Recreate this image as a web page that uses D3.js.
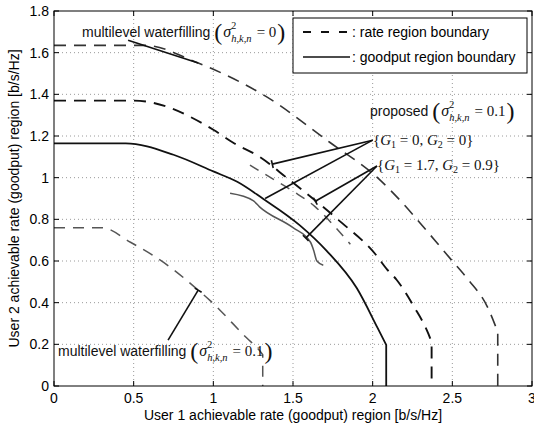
<!DOCTYPE html>
<html>
<head>
<meta charset="utf-8">
<script src="https://cdn.jsdelivr.net/npm/d3@7"></script>
<style>
  body { margin: 0; background: #fff; }
  svg { display: block; }
</style>
</head>
<body>
<div id="chart"></div>
<script>
// axis ticks
const xTicks = [0, 0.5, 1, 1.5, 2, 2.5, 3];
const yTicks = [0, 0.2, 0.4, 0.6, 0.8, 1, 1.2, 1.4, 1.6, 1.8];

// multilevel waterfilling, sigma^2 = 0 (rate region, dashed)
const wf0X = [0, 0.57, 0.905, 1.0, 1.33, 1.73, 2.0, 2.5, 2.6, 2.72, 2.785, 2.785];
const wf0Y = [1.635, 1.635, 1.55, 1.52, 1.39, 1.17, 1.02, 0.6, 0.51, 0.38, 0.26, 0];

// proposed {G1=0,G2=0}, rate region (dashed)
const rate00X = [0, 0.5, 1.0, 1.12, 1.29, 1.46, 1.78, 2.02, 2.09, 2.15, 2.26, 2.35, 2.37, 2.37];
const rate00Y = [1.37, 1.37, 1.23, 1.17, 1.10, 1.0, 0.80, 0.63, 0.56, 0.51, 0.38, 0.25, 0.21, 0];

// proposed {G1=0,G2=0}, goodput region (solid)
const good00X = [0, 0.45, 0.75, 1.0, 1.15, 1.31, 1.545, 1.71, 1.9, 2.03, 2.085, 2.085];
const good00Y = [1.165, 1.165, 1.11, 1.03, 0.98, 0.90, 0.77, 0.65, 0.47, 0.28, 0.197, 0];

// proposed {G1=1.7,G2=0.9}, rate region (short dashed)
const rate17X = [1.23, 1.36, 1.5, 1.64, 1.78, 1.86];
const rate17Y = [1.06, 1.0, 0.935, 0.86, 0.75, 0.68];

// proposed {G1=1.7,G2=0.9}, goodput region (short solid)
const good17X = [1.105, 1.25, 1.29, 1.5, 1.61, 1.63, 1.65, 1.69];
const good17Y = [0.925, 0.89, 0.86, 0.76, 0.69, 0.65, 0.60, 0.58];

// multilevel waterfilling, sigma^2 = 0.1 (rate region, dashed)
const wf1X = [0, 0.3, 0.48, 0.73, 0.905, 0.98, 1.21, 1.29, 1.31, 1.31];
const wf1Y = [0.76, 0.76, 0.69, 0.57, 0.46, 0.41, 0.23, 0.17, 0.15, 0];

const width = 534, height = 430;
const plot = { left: 54, right: 532, top: 11, bottom: 386 };
const sans = "'Liberation Sans', Arial, Helvetica, sans-serif";
const serif = "'Liberation Serif', 'Times New Roman', serif";

const svg = d3.select("#chart").append("svg")
  .attr("width", width)
  .attr("height", height);

const x = d3.scaleLinear().domain([0, 3]).range([plot.left, plot.right]);
const y = d3.scaleLinear().domain([0, 1.8]).range([plot.bottom, plot.top]);

// dotted grid
const grid = svg.append("g")
  .attr("stroke", "#9a9a9a")
  .attr("stroke-width", 1)
  .attr("stroke-dasharray", "1,3");
grid.selectAll("line.gx")
  .data(xTicks.slice(1, -1))
  .enter().append("line")
  .attr("x1", d => x(d)).attr("x2", d => x(d))
  .attr("y1", plot.top).attr("y2", plot.bottom);
grid.selectAll("line.gy")
  .data(yTicks.slice(1, -1))
  .enter().append("line")
  .attr("y1", d => y(d)).attr("y2", d => y(d))
  .attr("x1", plot.left).attr("x2", plot.right);

// curves: smooth monotone body, then the vertical drop to the x axis as straight line
const smooth = d3.line()
  .x(d => x(d[0]))
  .y(d => y(d[1]))
  .curve(d3.curveMonotoneX);
const zip = (xs, ys) => xs.map((v, i) => [v, ys[i]]);

function curvePath(xs, ys) {
  const pts = zip(xs, ys);
  let k = pts.length - 1;
  while (k > 0 && pts[k - 1][0] === pts[k][0]) k--;
  let d = smooth(pts.slice(0, k + 1));
  pts.slice(k + 1).forEach(p => { d += `L${x(p[0])},${y(p[1])}`; });
  return d;
}

const curves = [
  { xs: wf1X, ys: wf1Y, color: "#555", w: 1.5, dash: "11,8" },
  { xs: wf0X, ys: wf0Y, color: "#333", w: 1.6, dash: "12,8" },
  { xs: rate00X, ys: rate00Y, color: "#111", w: 1.9, dash: "12,8" },
  { xs: rate17X, ys: rate17Y, color: "#555", w: 1.5, dash: "10,8" },
  { xs: good00X, ys: good00Y, color: "#111", w: 1.8, dash: null },
  { xs: good17X, ys: good17Y, color: "#555", w: 1.5, dash: null },
];

svg.append("g")
  .selectAll("path")
  .data(curves)
  .enter().append("path")
  .attr("d", d => curvePath(d.xs, d.ys))
  .attr("fill", "none")
  .attr("stroke", d => d.color)
  .attr("stroke-width", d => d.w)
  .attr("stroke-dasharray", d => d.dash);

// frame + inward ticks on all four sides (matlab style)
svg.append("rect")
  .attr("x", plot.left).attr("y", plot.top)
  .attr("width", plot.right - plot.left)
  .attr("height", plot.bottom - plot.top)
  .attr("fill", "none")
  .attr("stroke", "#000")
  .attr("stroke-width", 1);

const tickLen = 5;
const ticks = svg.append("g").attr("stroke", "#000").attr("stroke-width", 1);
xTicks.forEach(t => {
  ticks.append("line").attr("x1", x(t)).attr("x2", x(t))
    .attr("y1", plot.bottom).attr("y2", plot.bottom - tickLen);
  ticks.append("line").attr("x1", x(t)).attr("x2", x(t))
    .attr("y1", plot.top).attr("y2", plot.top + tickLen);
});
yTicks.forEach(t => {
  ticks.append("line").attr("y1", y(t)).attr("y2", y(t))
    .attr("x1", plot.left).attr("x2", plot.left + tickLen);
  ticks.append("line").attr("y1", y(t)).attr("y2", y(t))
    .attr("x1", plot.right).attr("x2", plot.right - tickLen);
});

// tick labels
svg.append("g")
  .selectAll("text")
  .data(xTicks)
  .enter().append("text")
  .attr("x", d => x(d))
  .attr("y", 403)
  .attr("text-anchor", "middle")
  .attr("font-family", sans)
  .attr("font-size", 14)
  .text(d => d);

svg.append("g")
  .selectAll("text")
  .data(yTicks)
  .enter().append("text")
  .attr("x", plot.left - 5)
  .attr("y", d => y(d))
  .attr("dy", "0.36em")
  .attr("text-anchor", "end")
  .attr("font-family", sans)
  .attr("font-size", 14)
  .text(d => d);

// axis titles
svg.append("text")
  .attr("x", (plot.left + plot.right) / 2)
  .attr("y", 420)
  .attr("text-anchor", "middle")
  .attr("font-family", sans)
  .attr("font-size", 14)
  .text("User 1 achievable rate (goodput) region [b/s/Hz]");

svg.append("text")
  .attr("transform", `translate(19, ${(plot.top + plot.bottom) / 2}) rotate(-90)`)
  .attr("text-anchor", "middle")
  .attr("font-family", sans)
  .attr("font-size", 14)
  .text("User 2 achievable rate (goodput) region [b/s/Hz]");

// legend
const legend = svg.append("g");
legend.append("rect")
  .attr("x", 293).attr("y", 18)
  .attr("width", 234).attr("height", 55)
  .attr("fill", "#fff")
  .attr("stroke", "#000")
  .attr("stroke-width", 1);
legend.append("line")
  .attr("x1", 303).attr("x2", 350).attr("y1", 32).attr("y2", 32)
  .attr("stroke", "#111").attr("stroke-width", 2)
  .attr("stroke-dasharray", "8,10");
legend.append("line")
  .attr("x1", 303).attr("x2", 350).attr("y1", 57).attr("y2", 57)
  .attr("stroke", "#111").attr("stroke-width", 1.5);
legend.append("text")
  .attr("x", 352).attr("y", 37)
  .attr("font-family", sans).attr("font-size", 14)
  .text(": rate region boundary");
legend.append("text")
  .attr("x", 352).attr("y", 62)
  .attr("font-family", sans).attr("font-size", 14)
  .text(": goodput region boundary");

// annotation pointers (data coordinates), tick = small bar at the end
const pointers = [
  { from: [0.465, 1.66], to: [0.905, 1.55], tick: false },
  { from: [0.716, 0.22], to: [0.905, 0.46], tick: true },
  { from: [2.0, 1.18], to: [1.37, 1.065], tick: true },
  { from: [2.0, 1.18], to: [1.325, 0.90], tick: false },
  { from: [2.027, 1.056], to: [1.64, 0.887], tick: true },
  { from: [2.027, 1.056], to: [1.58, 0.71], tick: true },
];
const ptr = svg.append("g").attr("stroke", "#111").attr("stroke-width", 1.6);
pointers.forEach(p => {
  const x1 = x(p.from[0]), y1 = y(p.from[1]);
  const x2 = x(p.to[0]), y2 = y(p.to[1]);
  ptr.append("line").attr("x1", x1).attr("y1", y1).attr("x2", x2).attr("y2", y2);
  if (p.tick) {
    const len = Math.hypot(x2 - x1, y2 - y1);
    const nx = -(y2 - y1) / len * 4, ny = (x2 - x1) / len * 4;
    ptr.append("line")
      .attr("x1", x2 - nx).attr("y1", y2 - ny)
      .attr("x2", x2 + nx).attr("y2", y2 + ny);
  }
});

// "(sigma^2_{h,k,n} = v)" math chunk appended after a sans prefix
function sigmaLabel(px, py, prefix, value) {
  const t = svg.append("text").attr("x", px).attr("y", py).attr("fill", "#111");
  t.append("tspan").attr("font-family", sans).attr("font-size", 14).text(prefix + " ");
  t.append("tspan").attr("font-family", serif).attr("font-size", 24).attr("dy", 3).text("(");
  t.append("tspan").attr("font-family", serif).attr("font-style", "italic")
    .attr("font-size", 16).attr("dy", -3).attr("dx", 1).text("σ");
  t.append("tspan").attr("font-family", serif).attr("font-size", 10).attr("dy", -8).text("2");
  t.append("tspan").attr("font-family", serif).attr("font-style", "italic")
    .attr("font-size", 10.5).attr("dx", -5).attr("dy", 13).text("h,k,n");
  t.append("tspan").attr("font-family", serif).attr("font-size", 15)
    .attr("dy", -5).attr("dx", 5).text("= " + value);
  t.append("tspan").attr("font-family", serif).attr("font-size", 24)
    .attr("dy", 3).attr("dx", 1).text(")");
}

sigmaLabel(x(0.176), y(1.675), "multilevel waterfilling", "0");
sigmaLabel(x(0.025), y(0.144), "multilevel waterfilling", "0.1");
sigmaLabel(x(1.983), y(1.296), "proposed", "0.1");

// {G1 = a, G2 = b}
function gLabel(px, py, g1, g2) {
  const t = svg.append("text").attr("x", px).attr("y", py)
    .attr("font-family", serif).attr("font-size", 15).attr("fill", "#111");
  t.append("tspan").text("{");
  t.append("tspan").attr("font-style", "italic").text("G");
  t.append("tspan").attr("font-size", 10).attr("dy", 3).text("1");
  t.append("tspan").attr("dy", -3).text(" = " + g1 + ", ");
  t.append("tspan").attr("font-style", "italic").text("G");
  t.append("tspan").attr("font-size", 10).attr("dy", 3).text("2");
  t.append("tspan").attr("dy", -3).text(" = " + g2 + "}");
}

gLabel(x(2.002), y(1.157), "0", "0");
gLabel(x(2.027), y(1.037), "1.7", "0.9");
</script>
</body>
</html>
